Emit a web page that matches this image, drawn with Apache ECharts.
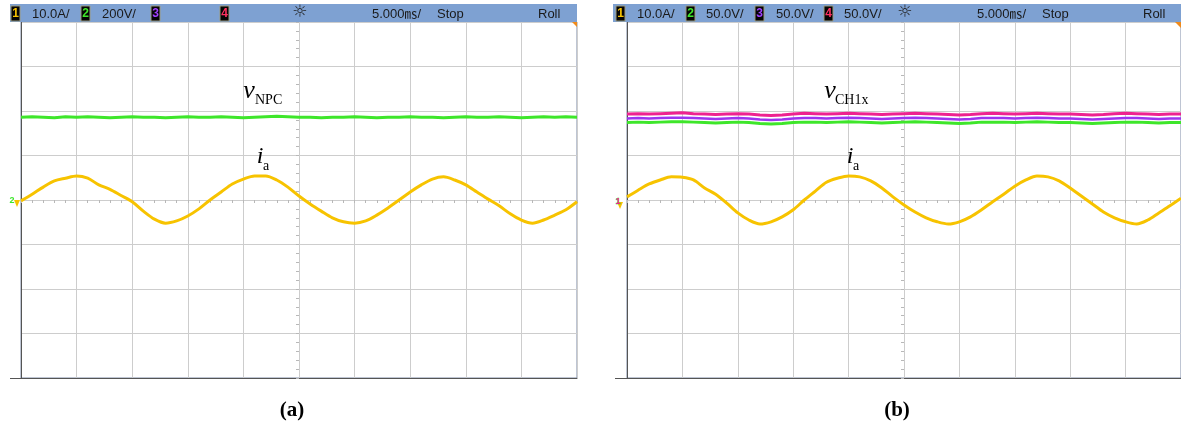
<!DOCTYPE html>
<html><head><meta charset="utf-8">
<script src="https://cdn.jsdelivr.net/npm/echarts@6/dist/echarts.min.js"></script>
<style>html,body{margin:0;padding:0;background:#fff}#c{width:1181px;height:429px}</style>
</head><body><div id="c"></div>
<script>
// time axis (ms, relative to screen centre), 5 ms/div, 10 divisions
const timeMs = [-25,-24,-23,-22,-21,-20,-19,-18,-17,-16,-15,-14,-13,-12,-11,-10,-9,-8,-7,-6,-5,-4,-3,-2,-1,0,1,2,3,4,5,6,7,8,9,10,11,12,13,14,15,16,17,18,19,20,21,22,23,24,25];
// values in screen divisions (ch1 10 A/div)
// panel (a)
const iaA = [-0.02,0.13,0.29,0.43,0.49,0.54,0.49,0.34,0.24,0.10,-0.04,-0.25,-0.43,-0.52,-0.47,-0.36,-0.20,0.00,0.18,0.36,0.47,0.54,0.54,0.45,0.29,0.09,-0.09,-0.25,-0.40,-0.49,-0.52,-0.47,-0.34,-0.18,0.00,0.18,0.34,0.47,0.52,0.45,0.34,0.18,0.02,-0.13,-0.31,-0.45,-0.52,-0.45,-0.34,-0.22,-0.04];
const vNpcA = [1.86,1.87,1.86,1.85,1.87,1.86,1.87,1.86,1.85,1.86,1.87,1.86,1.86,1.85,1.86,1.87,1.86,1.86,1.87,1.86,1.85,1.86,1.87,1.88,1.87,1.86,1.86,1.85,1.86,1.86,1.87,1.86,1.85,1.86,1.86,1.87,1.86,1.86,1.85,1.86,1.87,1.86,1.86,1.87,1.86,1.85,1.86,1.87,1.86,1.87,1.86];
// panel (b)
const iaB = [0.07,0.22,0.36,0.45,0.52,0.51,0.45,0.27,0.13,-0.07,-0.29,-0.45,-0.54,-0.49,-0.38,-0.22,0.00,0.20,0.40,0.49,0.54,0.52,0.43,0.27,0.07,-0.11,-0.27,-0.40,-0.49,-0.54,-0.49,-0.38,-0.22,-0.04,0.13,0.31,0.45,0.54,0.52,0.43,0.27,0.09,-0.09,-0.27,-0.40,-0.49,-0.54,-0.45,-0.29,-0.13,0.04];
const vCh1 = [1.93,1.94,1.93,1.94,1.95,1.96,1.94,1.93,1.92,1.93,1.94,1.93,1.91,1.90,1.91,1.93,1.95,1.94,1.93,1.94,1.95,1.94,1.93,1.92,1.93,1.94,1.95,1.94,1.93,1.92,1.91,1.92,1.94,1.95,1.94,1.93,1.94,1.95,1.94,1.93,1.93,1.92,1.91,1.92,1.94,1.95,1.94,1.93,1.92,1.93,1.93];
const vCh2 = [1.83,1.84,1.83,1.84,1.85,1.85,1.84,1.83,1.82,1.83,1.84,1.83,1.81,1.80,1.81,1.83,1.84,1.84,1.83,1.84,1.85,1.84,1.83,1.82,1.83,1.84,1.85,1.84,1.83,1.82,1.81,1.82,1.84,1.84,1.84,1.83,1.84,1.85,1.84,1.83,1.83,1.82,1.81,1.82,1.83,1.84,1.84,1.83,1.82,1.83,1.83];
const vCh3 = [1.74,1.75,1.74,1.75,1.76,1.76,1.75,1.74,1.73,1.74,1.75,1.74,1.72,1.71,1.72,1.74,1.75,1.75,1.74,1.75,1.76,1.75,1.74,1.73,1.74,1.75,1.76,1.75,1.74,1.73,1.72,1.73,1.75,1.75,1.75,1.74,1.75,1.76,1.75,1.74,1.74,1.73,1.72,1.73,1.74,1.75,1.75,1.74,1.73,1.74,1.74];
const headerA = ['10.0A/', '200V/', '', ''];
const headerB = ['10.0A/', '50.0V/', '50.0V/', '50.0V/'];
const timebase = '5.000㎳/';

const pairs = (vals) => timeMs.map((t, i) => [t, vals[i]]);

const C_YEL = '#f7c300', C_GRN = '#3ee62a', C_PNK = '#ee2290', C_PUR = '#9c34f0';
const HF = "'Liberation Sans Narrow','Liberation Sans',Arial,sans-serif";
const SF = "'Liberation Serif','Times New Roman',serif";
const GRIDC = '#cdcdcd';

function mainX(g) {
  return {gridIndex:g, type:'value', min:-25, max:25, interval:5,
    axisLine:{show:true, onZero:false, lineStyle:{color:'#555', width:1}},
    axisTick:{show:false}, axisLabel:{show:false},
    splitLine:{show:true, lineStyle:{color:GRIDC, width:1}}};
}
function mainY(g) {
  return {gridIndex:g, type:'value', min:-4, max:4, interval:1,
    axisLine:{show:true, onZero:false, lineStyle:{color:'#555', width:1}},
    axisTick:{show:false}, axisLabel:{show:false},
    splitLine:{show:true, lineStyle:{color:GRIDC, width:1}}};
}
function centreX(g) {
  return {gridIndex:g, type:'value', min:-25, max:25, interval:5,
    axisLine:{show:false, onZero:true},
    axisTick:{show:true, inside:true, length:3, lineStyle:{color:'#b8b8b8'}},
    minorTick:{show:true, splitNumber:5, length:3, lineStyle:{color:'#b8b8b8'}},
    axisLabel:{show:false}, splitLine:{show:false}};
}
function centreY(g) {
  return {gridIndex:g, type:'value', min:-4, max:4, interval:1,
    axisLine:{show:false, onZero:true},
    axisTick:{show:true, inside:true, length:3, lineStyle:{color:'#b8b8b8'}},
    minorTick:{show:true, splitNumber:5, length:3, lineStyle:{color:'#b8b8b8'}},
    axisLabel:{show:false}, splitLine:{show:false}};
}
function trace(name, vals, color, xi, yi, w, smooth) {
  return {name, type:'line', xAxisIndex:xi, yAxisIndex:yi, data:pairs(vals),
    showSymbol:false, symbol:'none', smooth:smooth || false, silent:true, animation:false,
    lineStyle:{color, width:w}};
}

function txt(x, y, text, style) {
  return {type:'text', x, y, silent:true, z:100,
    style:Object.assign({text, fill:'#1a1a1a', fontSize:13, fontFamily:HF, textAlign:'left', textVerticalAlign:'middle'}, style)};
}
function chBox(x, digit, color) {
  return [
    {type:'rect', silent:true, z:100, shape:{x:x, y:6, width:9, height:15}, style:{fill:'#050505', stroke:'#9a9a80', lineWidth:1}},
    txt(x+4.5, 14, digit, {fill:color, fontSize:12, fontWeight:'bold', textAlign:'center'})
  ];
}
function header(x0, x1, pos, labels, sunX, tbX, stopX, rollX) {
  const els = [{type:'rect', silent:true, z:99, shape:{x:x0, y:4, width:x1-x0, height:18}, style:{fill:'#7ea1d2'}}];
  const cols = [C_YEL, C_GRN, '#a040ff', '#ff3060'];
  for (let i = 0; i < 4; i++) {
    els.push(...chBox(pos[i][0], String(i+1), cols[i]));
    if (labels[i]) els.push(txt(pos[i][1], 14, labels[i]));
  }
  els.push(txt(sunX, 13, '☼', {fontFamily:"'DejaVu Sans',sans-serif", fontSize:17, textAlign:'center', fill:'#222'}));
  els.push(txt(tbX, 14, timebase, {fontFamily:HF + ",'Noto Sans CJK JP'"}));
  els.push(txt(stopX, 14, 'Stop'));
  els.push(txt(rollX, 14, 'Roll'));
  return els;
}

const graphics = [].concat(
  header(10, 577, [[11,32],[81,102],[151,0],[220,0]], headerA, 300, 372, 437, 538),
  header(613, 1181, [[616,637],[686,706],[755,776],[824,844]], headerB, 905, 977, 1042, 1143),
  [
    // bottom frame extension
    {type:'line', silent:true, z:50, shape:{x1:10, y1:378.5, x2:21, y2:378.5}, style:{stroke:'#555', lineWidth:1}},
    {type:'line', silent:true, z:50, shape:{x1:615, y1:378.5, x2:627, y2:378.5}, style:{stroke:'#555', lineWidth:1}},
    // orange corner markers
    {type:'polygon', silent:true, z:100, shape:{points:[[572,22],[577,22],[577,27]]}, style:{fill:'#f08a1a'}},
    {type:'polygon', silent:true, z:100, shape:{points:[[1175,22],[1181,22],[1181,28]]}, style:{fill:'#f08a1a'}},
    // ground markers
    {type:'polygon', silent:true, z:100, shape:{points:[[14,200],[20,200],[17,207]]}, style:{fill:C_YEL}},
    txt(12, 201, '2', {fill:C_GRN, fontSize:9, fontWeight:'bold', textAlign:'center'}),
    {type:'polygon', silent:true, z:100, shape:{points:[[617,202],[623,202],[620,209]]}, style:{fill:C_YEL}},
    txt(618, 202, '1', {fill:C_PNK, fontSize:9, fontWeight:'bold', textAlign:'center', stroke:C_GRN, lineWidth:0.6}),
    // trace labels panel (a)
    txt(249, 91, 'v', {fontFamily:SF, fontStyle:'italic', fontSize:26, textAlign:'center', fill:'#000'}),
    txt(255, 100, 'NPC', {fontFamily:SF, fontSize:14, fill:'#000'}),
    txt(260, 157, 'i', {fontFamily:SF, fontStyle:'italic', fontSize:24, textAlign:'center', fill:'#000'}),
    txt(263, 166, 'a', {fontFamily:SF, fontSize:14, fill:'#000'}),
    // trace labels panel (b)
    txt(830, 91, 'v', {fontFamily:SF, fontStyle:'italic', fontSize:26, textAlign:'center', fill:'#000'}),
    txt(835, 100, 'CH1x', {fontFamily:SF, fontSize:14, fill:'#000'}),
    txt(850, 157, 'i', {fontFamily:SF, fontStyle:'italic', fontSize:24, textAlign:'center', fill:'#000'}),
    txt(853, 166, 'a', {fontFamily:SF, fontSize:14, fill:'#000'}),
    // panel captions
    txt(292, 411, '(a)', {fontFamily:SF, fontWeight:'bold', fontSize:21, textAlign:'center', fill:'#000'}),
    txt(897, 411, '(b)', {fontFamily:SF, fontWeight:'bold', fontSize:21, textAlign:'center', fill:'#000'})
  ]
);

const chart = echarts.init(document.getElementById('c'), null, {renderer:'canvas'});
chart.setOption({
  animation:false,
  backgroundColor:'#fff',
  grid:[
    {left:21, top:22, width:556, height:356, show:true, borderColor:'#7d8aa6', borderWidth:1, backgroundColor:'transparent'},
    {left:627, top:22, width:556, height:356, show:true, borderColor:'#7d8aa6', borderWidth:1, backgroundColor:'transparent'}
  ],
  xAxis:[mainX(0), centreX(0), mainX(1), centreX(1)],
  yAxis:[mainY(0), centreY(0), mainY(1), centreY(1)],
  series:[
    trace('v_NPC', vNpcA, C_GRN, 0, 0, 3),
    trace('i_a (a)', iaA, C_YEL, 0, 0, 3, 0.3),
    trace('v_CH1 green', vCh3, C_GRN, 2, 2, 3),
    trace('v_CH1 pink', vCh1, C_PNK, 2, 2, 3),
    trace('v_CH1 purple', vCh2, C_PUR, 2, 2, 2.5),
    trace('i_a (b)', iaB, C_YEL, 2, 2, 3, 0.3)
  ],
  graphic:{elements:graphics}
});
</script></body></html>
